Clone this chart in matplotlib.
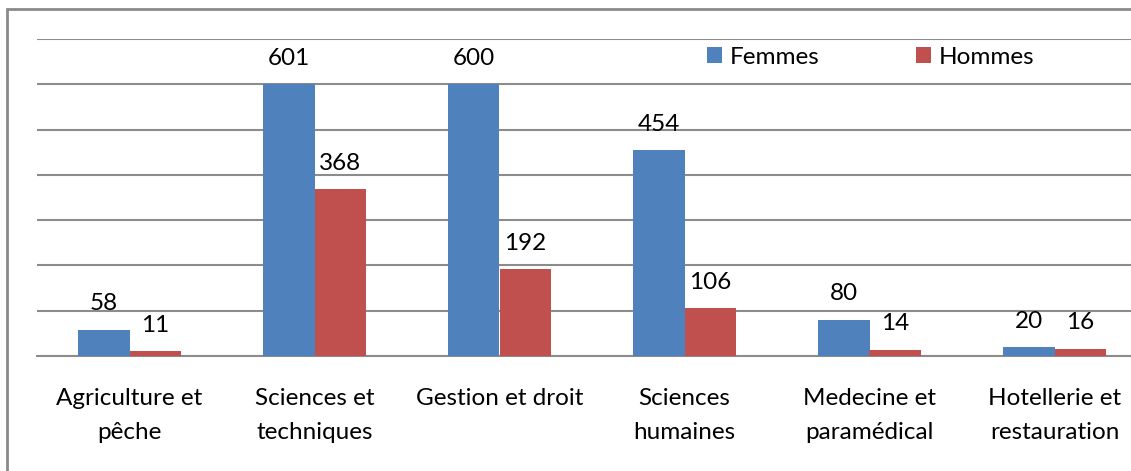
import numpy as np
import matplotlib
matplotlib.use("Agg")
import matplotlib.pyplot as plt
from matplotlib.patches import Rectangle

categories = ["Agriculture et\npêche", "Sciences et\ntechniques", "Gestion et droit",
              "Sciences\nhumaines", "Medecine et\nparamédical", "Hotellerie et\nrestauration"]
femmes = [58, 601, 600, 454, 80, 20]
hommes = [11, 368, 192, 106, 14, 16]

plt.rcParams['font.family'] = ['Lato', 'DejaVu Sans']
fs = 17.5

fig = plt.figure(figsize=(11.31, 4.71), dpi=100)
ax = fig.add_axes([37 / 1131, 115 / 471, 1110 / 1131, 317 / 471])

x = np.arange(len(categories))
w = 0.28
b1 = ax.bar(x - w / 2, femmes, w, color="#4F81BD", label="Femmes", zorder=3)
b2 = ax.bar(x + w / 2, hommes, w, color="#C0504D", label="Hommes", zorder=3)

for bars, vals in ((b1, femmes), (b2, hommes)):
    for r, v in zip(bars, vals):
        ax.annotate(str(v), (r.get_x() + r.get_width() / 2, r.get_height()),
                    xytext=(0, 11), textcoords="offset points",
                    ha="center", va="bottom", fontsize=fs, color="black")

ax.set_xlim(-0.5, len(categories) - 0.5)
ax.set_ylim(0, 700)
ax.set_yticks(np.arange(0, 701, 100))
ax.yaxis.grid(True, color="#8c8c8c", lw=1.5, zorder=0)
ax.tick_params(axis="y", left=False, labelleft=False)
ax.set_xticks(x)
ax.set_xticklabels(categories, fontsize=fs, linespacing=1.75, color="black")
ax.tick_params(axis="x", length=0, pad=23)
for s in ("top", "right", "left"):
    ax.spines[s].set_visible(False)
ax.spines["bottom"].set_color("#8c8c8c")
ax.spines["bottom"].set_linewidth(1.5)

fig.legend(loc="center left", bbox_to_anchor=(707 / 1131, 1 - 57 / 471), ncol=2,
           frameon=False, fontsize=fs, borderpad=0, borderaxespad=0,
           handlelength=0.62, handleheight=0.62, handletextpad=0.3,
           columnspacing=4.0)

fig.patches.append(Rectangle((7 / 1131, -0.1), 2, 1.1 - 9 / 471, transform=fig.transFigure,
                             fill=False, edgecolor="#8a8a8a", lw=2, clip_on=False))

fig.savefig("out.png", dpi=100)
